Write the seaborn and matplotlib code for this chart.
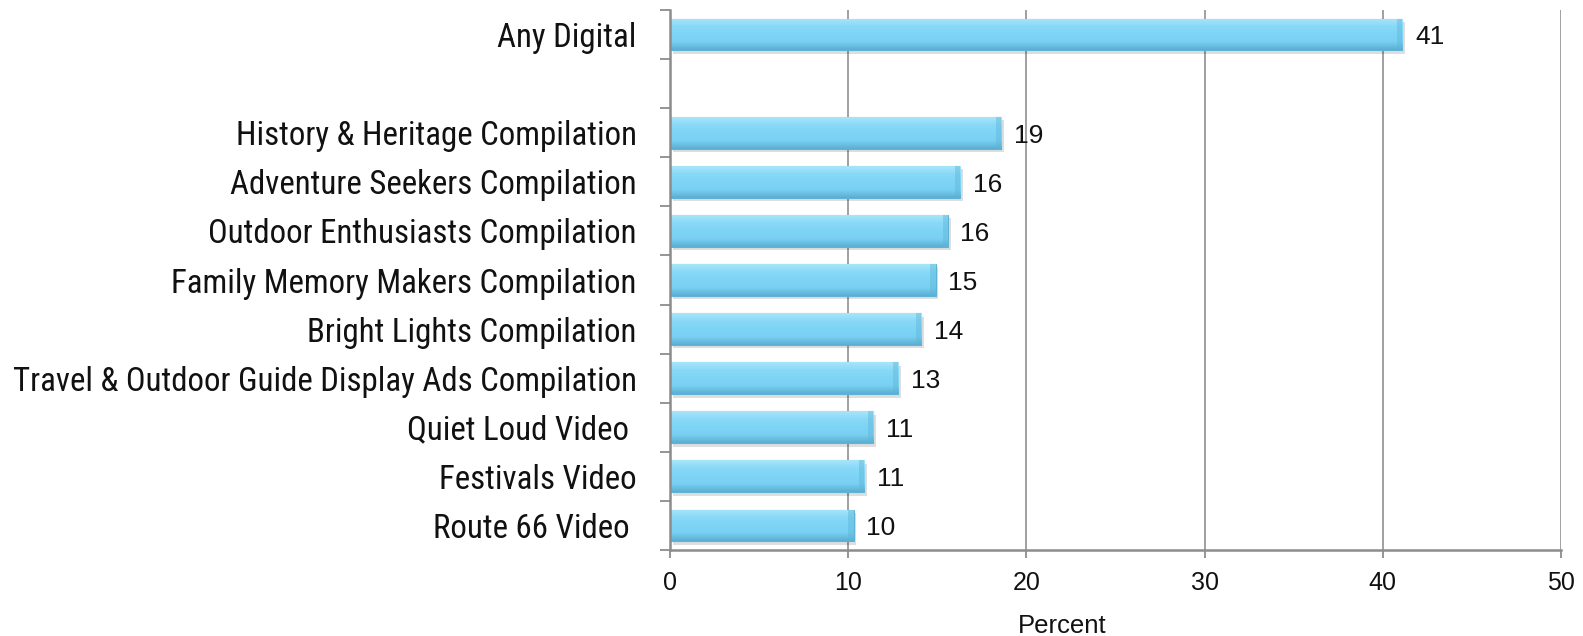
import numpy as np
import pandas as pd
import matplotlib
matplotlib.use("Agg")
import matplotlib.pyplot as plt
from matplotlib import font_manager
from matplotlib.colors import LinearSegmentedColormap
import seaborn as sns

# Share of respondents recalling each piece of digital creative (percent)
categories = [
    "Any Digital",
    "History & Heritage Compilation",
    "Adventure Seekers Compilation",
    "Outdoor Enthusiasts Compilation",
    "Family Memory Makers Compilation",
    "Bright Lights Compilation",
    "Travel & Outdoor Guide Display Ads Compilation",
    "Quiet Loud Video ",
    "Festivals Video",
    "Route 66 Video ",
]
values = [41.1, 18.6, 16.3, 15.6, 14.9, 14.1, 12.8, 11.4, 10.9, 10.3]
x_ticks = [0, 10, 20, 30, 40, 50]

# blank slot separating the total from the individual pieces
order = [categories[0], " "] + categories[1:]

df = pd.DataFrame({"category": categories, "percent": values})

sns.set_theme(style="white")
plt.rcParams["font.family"] = ["Liberation Sans", "DejaVu Sans"]


def find_narrow_font():
    """Look for an installed condensed sans face for the category labels."""
    preferred = ["Liberation Sans Narrow", "Arial Narrow", "Nimbus Sans Narrow",
                 "Roboto Condensed", "Open Sans Condensed", "Noto Sans Condensed",
                 "DejaVu Sans Condensed"]
    fonts = font_manager.fontManager.ttflist
    for name in preferred:
        for f in fonts:
            if f.name == name and f.weight in (400, "normal", "regular") \
                    and f.style == "normal":
                return font_manager.FontProperties(fname=f.fname)
    for f in fonts:
        fn = f.fname.lower()
        if f.style != "normal" or "bold" in fn or "italic" in fn or "light" in fn \
                or "mono" in fn or "serif" in fn and "sans" not in fn:
            continue
        if ("condensed" in fn or "narrow" in fn or
                str(f.stretch) in ("condensed", "semi-condensed", "75", "87.5")):
            if "semi" in fn or "extra" in fn or "ultra" in fn:
                continue
            return font_manager.FontProperties(fname=f.fname)
    return None


narrow = find_narrow_font()

fig = plt.figure(figsize=(15.83, 6.36), dpi=100)
ax = fig.add_axes([670 / 1583, 1 - 550 / 636, 891 / 1583, 540 / 636])

bar_color = "#7ED5F6"
sns.barplot(data=df, y="category", x="percent", order=order, orient="h",
            color=bar_color, width=0.65, saturation=1, ax=ax,
            edgecolor="#5FB3D4", linewidth=0.8, zorder=3)

# glossy vertical shading and soft drop shadow on each bar
shade = LinearSegmentedColormap.from_list(
    "shade", ["#A8E5FA", "#88D9F7", "#7ED4F5", "#79D0F3", "#5AAED2"])
grad = np.linspace(0, 1, 64).reshape(-1, 1)
for p in list(ax.patches):
    if p.get_width() <= 0 or np.isnan(p.get_width()):
        continue
    x0, y0 = p.get_x(), p.get_y()
    w, h = p.get_width(), p.get_height()
    shadow = plt.Rectangle((x0 + 0.15, y0 + 0.07), w, h, facecolor="#000000",
                           alpha=0.13, edgecolor="none", zorder=2)
    ax.add_patch(shadow)
    im = ax.imshow(grad, cmap=shade, aspect="auto",
                   extent=(x0, x0 + w, y0 + h, y0), zorder=3.5,
                   interpolation="bicubic")
    im.set_clip_path(p)
    # darker bevel at the bar end
    bevel = plt.Rectangle((x0 + w - 0.3, y0), 0.3, h, facecolor="#5EB6D8",
                          alpha=0.45, edgecolor="none", zorder=3.6)
    ax.add_patch(bevel)
    ax.annotate(f"{w:.0f}", xy=(x0 + w, y0 + h / 2), xytext=(9, -2),
                textcoords="offset points", ha="left", va="center",
                fontsize=19, color="#111111", zorder=5)

ax.set_xlim(0, 50)
ax.set_ylim(len(order) - 0.5, -0.5)
ax.set_xticks(x_ticks)
ax.set_xticklabels([str(t) for t in x_ticks])
ax.xaxis.grid(True, color="#999999", linewidth=1.3, zorder=0)
ax.yaxis.grid(False)
ax.set_axisbelow(True)

for side in ["top", "right"]:
    ax.spines[side].set_visible(False)
for side in ["left", "bottom"]:
    ax.spines[side].set_color("#8C8C8C")
    ax.spines[side].set_linewidth(1.8)
    ax.spines[side].set_zorder(4)

# category labels centred on bars, tick marks between categories
ax.set_yticks(range(len(order)))
labels = ax.set_yticklabels(order, color="#111111")
for t in labels:
    if narrow is not None:
        t.set_fontproperties(narrow)
        t.set_fontsize(23.7)
    else:
        t.set_fontsize(21)
ax.tick_params(axis="y", which="major", length=0, pad=24)
ax.set_yticks(np.arange(-0.5, len(order), 1), minor=True)
ax.tick_params(axis="y", which="minor", length=7, width=1.3, color="#8C8C8C",
               direction="out", left=True)
ax.tick_params(axis="x", which="major", length=6, width=1.3, color="#8C8C8C",
               direction="out", bottom=True, pad=9, labelsize=18,
               labelcolor="#111111")

ax.set_ylabel("")
ax.set_xlabel("Percent", fontsize=18.5, color="#111111")
ax.xaxis.set_label_coords(0.44, -0.118)

fig.savefig("out.png", dpi=100)
